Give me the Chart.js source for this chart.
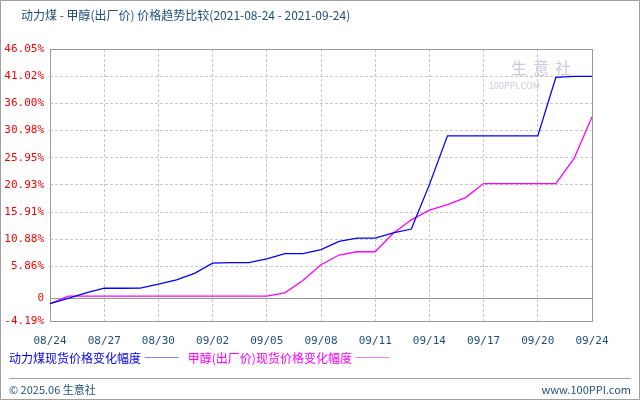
<!DOCTYPE html>
<html lang="zh-CN">
<head>
<meta charset="UTF-8">
<script src="https://cdn.jsdelivr.net/npm/chart.js"></script>
<title>动力煤 - 甲醇(出厂价) 价格趋势比较</title>
<style>
    body { margin: 0; background: #fff; font-family: 'Noto Sans CJK SC', 'DejaVu Sans', sans-serif; }
    .box { position: relative; width: 638px; height: 398px; border: 1px solid #a0a0a0; overflow: hidden; }
    canvas { position: absolute; left: -1px; top: -1px; }
    .title { position: absolute; left: 20px; top: 5px; font-size: 12px; color: #1f4e79; }
    .legend { position: absolute; left: 8px; top: 348px; font-size: 12px; }
    .foot { position: absolute; top: 377px; left: 8px; right: 8px; border-top: 1px solid #a0a0a0; font-size: 11px; color: #1f4e79; padding-top: 2px; }
    .foot span { float: right; }
    .wm { position: absolute; left: 510px; top: 54px; color: #c7cbe0; font-size: 16px; letter-spacing: 6px; }
    .wm small { display: block; font-size: 9px; letter-spacing: 0; margin-left: -22px; }
</style>
</head>
<body>
<div class="box">
    <canvas id="c" width="640" height="400"></canvas>
    <div class="title">动力煤 - 甲醇(出厂价) 价格趋势比较(2021-08-24 - 2021-09-24)</div>
    <div class="wm">生意社<small>100PPI.COM</small></div>
    <div class="legend">
        <span style="color:#0000ff">动力煤现货价格变化幅度 ——— </span>
        &nbsp;&nbsp;<span style="color:#ff00ff">甲醇(出厂价)现货价格变化幅度 ———</span>
    </div>
    <div class="foot">© 2025.06 生意社<span>www.100PPI.com</span></div>
</div>
<script>
    var dates = ['08/24','08/25','08/26','08/27','08/28','08/29','08/30','08/31','09/01','09/02',
        '09/03','09/04','09/05','09/06','09/07','09/08','09/09','09/10','09/11','09/12',
        '09/13','09/14','09/15','09/16','09/17','09/18','09/19','09/20','09/22','09/23','09/24'];
    var coal = [-1.0, 0.0, 1.0, 1.86, 1.86, 1.9, 2.6, 3.4, 4.6, 6.5,
        6.6, 6.6, 7.3, 8.25, 8.25, 9.0, 10.5, 11.1, 11.1, 12.1,
        12.8, 21.0, 30.0, 30.0, 30.0, 30.0, 30.0, 30.0, 40.8, 41.0, 41.0];
    var methanol = [-1.0, 0.4, 0.4, 0.4, 0.4, 0.4, 0.4, 0.4, 0.4, 0.4,
        0.4, 0.4, 0.4, 1.0, 3.3, 6.2, 8.0, 8.6, 8.6, 12.0,
        14.5, 16.3, 17.3, 18.6, 21.2, 21.2, 21.2, 21.2, 21.2, 25.8, 33.5];
    var yTicks = [-4.19, 0, 5.86, 10.88, 15.91, 20.93, 25.95, 30.98, 36.00, 41.02, 46.05];

    var font = { family: "'DejaVu Sans Mono', monospace", size: 11 };

    new Chart(document.getElementById('c'), {
        type: 'line',
        data: {
            labels: dates,
            datasets: [
                { data: coal, borderColor: '#0000ff', borderWidth: 1.3, pointRadius: 0, tension: 0 },
                { data: methanol, borderColor: '#ff00ff', borderWidth: 1.3, pointRadius: 0, tension: 0 }
            ]
        },
        options: {
            responsive: false,
            animation: false,
            layout: { padding: { top: 49, right: 48, left: 0, bottom: 0 } },
            plugins: { legend: { display: false }, tooltip: { enabled: false } },
            scales: {
                x: {
                    afterFit: function(s) { s.height = 79; },
                    border: { display: false, dash: [3, 2] },
                    grid: {
                        drawTicks: false,
                        color: function(c) { return c.index % 3 === 0 ? '#c8c8c8' : 'rgba(0,0,0,0)'; }
                    },
                    ticks: {
                        autoSkip: false, maxRotation: 0, padding: 14, color: '#1f4e79', font: font,
                        callback: function(v, i) { return i % 3 === 0 ? dates[i] : ''; }
                    }
                },
                y: {
                    min: -4.19, max: 46.05,
                    afterFit: function(s) { s.width = 50; },
                    afterBuildTicks: function(s) { s.ticks = yTicks.map(function(v) { return { value: v }; }); },
                    border: { display: false, dash: [3, 2] },
                    grid: { drawTicks: false, color: '#c8c8c8' },
                    ticks: {
                        padding: 6, color: '#ff0000', font: font,
                        callback: function(v) { return v === 0 ? '0' : v.toFixed(2) + '%'; }
                    }
                }
            }
        },
        plugins: [{
            id: 'frame',
            beforeDatasetsDraw: function(chart) {
                var a = chart.chartArea, ctx = chart.ctx, y0 = chart.scales.y.getPixelForValue(0);
                ctx.save();
                ctx.strokeStyle = '#999';
                ctx.lineWidth = 1;
                ctx.strokeRect(a.left + 0.5, a.top + 0.5, a.right - a.left, a.bottom - a.top);
                ctx.beginPath();
                ctx.moveTo(a.left, Math.round(y0) + 0.5);
                ctx.lineTo(a.right, Math.round(y0) + 0.5);
                ctx.stroke();
                ctx.restore();
            }
        }]
    });
</script>
</body>
</html>
